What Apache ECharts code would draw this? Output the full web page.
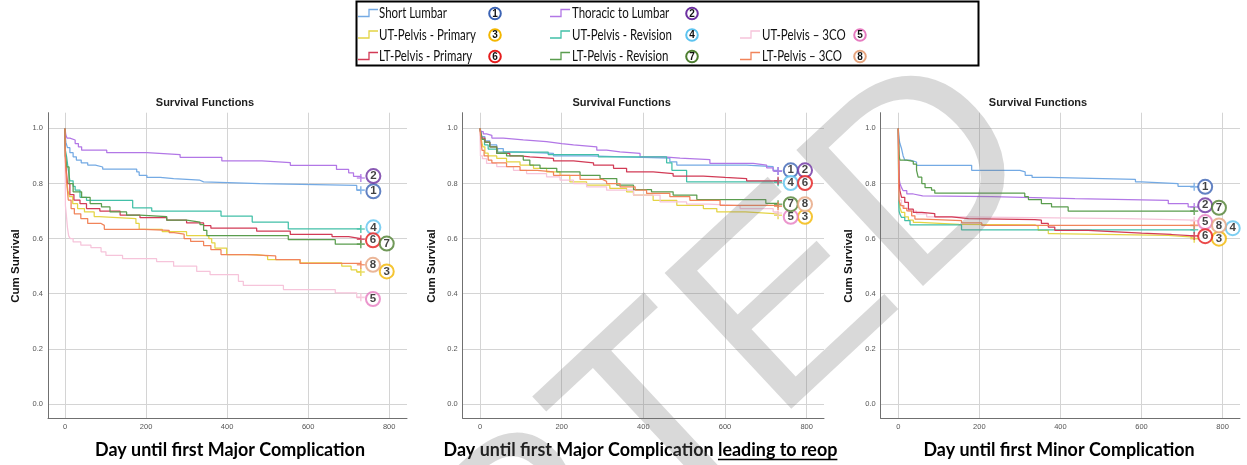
<!DOCTYPE html>
<html><head><meta charset="utf-8">
<script src="https://cdn.jsdelivr.net/npm/echarts@6/dist/echarts.min.js"></script>
<style>html,body{margin:0;padding:0;background:#fff}#c{width:1247px;height:465px}</style>
</head><body><div id="c"></div>
<script>
// ---------- DATA ----------
const groupNames = ['Short Lumbar','Thoracic to Lumbar','UT-Pelvis - Primary','UT-Pelvis - Revision','UT-Pelvis \u2013 3CO','LT-Pelvis - Primary','LT-Pelvis - Revision','LT-Pelvis \u2013 3CO'];
const groupIds = ['1','2','3','4','5','6','7','8'];
const panelTitles = ['Survival Functions','Survival Functions','Survival Functions'];
const yAxisTitle = 'Cum Survival';
const xTitlePlain = ['Day until first Major Complication','Day until first Major Complication ','Day until first Minor Complication'];
const xTitleUnderlined = ['','leading to reop',''];
const xTicks = [0,200,400,600,800];
const yTicks = [0,0.2,0.4,0.6,0.8,1.0];
const watermarkText = 'ACCEPTED';

// Panel 1: Day until first Major Complication  ([day, cumulative survival])
const maj1 = [[0,1],[1,0.965],[2,0.95],[6,0.93],[12,0.912],[20,0.897],[28,0.885],[40,0.875],[56,0.867],[75,0.86],[93,0.852],[177,0.842],[183,0.83],[202,0.822],[235,0.818],[268,0.812],[333,0.806],[342,0.8],[481,0.793],[720,0.776],[730,0.776]];
const maj2 = [[0,1],[2,0.976],[5,0.965],[12,0.958],[25,0.945],[33,0.933],[41,0.921],[103,0.912],[202,0.905],[284,0.895],[387,0.882],[486,0.876],[556,0.866],[670,0.851],[700,0.839],[712,0.826],[730,0.82]];
const maj3 = [[0,1],[1,0.9],[3,0.82],[7,0.776],[11,0.752],[19,0.727],[31,0.709],[48,0.697],[72,0.68],[84,0.673],[175,0.655],[183,0.634],[240,0.625],[300,0.611],[355,0.6],[362,0.585],[370,0.566],[399,0.542],[473,0.537],[500,0.524],[580,0.512],[683,0.5],[706,0.487],[720,0.479],[730,0.479]];
const maj4 = [[0,1],[1,0.92],[4,0.897],[8,0.85],[12,0.81],[20,0.79],[25,0.776],[37,0.75],[53,0.739],[167,0.712],[214,0.7],[385,0.682],[462,0.66],[551,0.635],[730,0.635]];
const maj5 = [[0,1],[1,0.72],[3,0.69],[6,0.64],[9,0.61],[13,0.6],[20,0.588],[39,0.576],[64,0.567],[89,0.552],[101,0.539],[142,0.527],[226,0.517],[268,0.5],[325,0.481],[358,0.469],[428,0.445],[440,0.43],[539,0.415],[667,0.403],[720,0.387],[730,0.387]];
const maj6 = [[0,1],[1,0.9],[3,0.85],[6,0.8],[12,0.76],[22,0.74],[37,0.727],[53,0.709],[86,0.7],[136,0.685],[185,0.676],[251,0.667],[300,0.657],[342,0.647],[360,0.638],[473,0.627],[556,0.615],[659,0.607],[700,0.6],[730,0.598]];
const maj7 = [[0,1],[1,0.9],[4,0.86],[10,0.8],[20,0.77],[41,0.75],[62,0.727],[90,0.715],[111,0.697],[152,0.685],[185,0.68],[251,0.667],[300,0.66],[333,0.651],[342,0.63],[350,0.611],[551,0.596],[667,0.58],[730,0.58]];
const maj8 = [[0,1],[1,0.88],[2,0.86],[5,0.79],[8,0.74],[15,0.709],[23,0.69],[39,0.673],[56,0.655],[89,0.648],[97,0.634],[195,0.63],[257,0.622],[269,0.616],[294,0.6],[310,0.59],[342,0.575],[360,0.56],[385,0.542],[450,0.537],[520,0.524],[580,0.51],[730,0.505]];

// Panel 2: Day until first Major Complication leading to reop
const reop1 = [[0,1],[2,0.985],[5,0.97],[12,0.955],[24,0.94],[41,0.927],[57,0.915],[90,0.909],[180,0.9],[269,0.897],[350,0.892],[465,0.879],[482,0.867],[653,0.861],[718,0.848],[730,0.845]];
const reop2 = [[0,1],[3,0.988],[8,0.98],[16,0.975],[29,0.965],[57,0.958],[106,0.952],[163,0.945],[200,0.94],[229,0.933],[286,0.921],[310,0.915],[343,0.909],[392,0.897],[450,0.892],[490,0.887],[563,0.873],[669,0.867],[702,0.857],[718,0.845],[730,0.845]];
const reop3 = [[0,1],[3,0.96],[7,0.933],[12,0.91],[20,0.9],[41,0.891],[65,0.879],[98,0.867],[131,0.855],[163,0.842],[196,0.83],[220,0.806],[261,0.794],[318,0.782],[359,0.77],[376,0.758],[424,0.739],[482,0.721],[547,0.709],[580,0.697],[650,0.69],[730,0.685]];
const reop4 = [[0,1],[2,0.985],[5,0.96],[11,0.94],[20,0.925],[43,0.914],[167,0.905],[290,0.897],[457,0.875],[470,0.848],[506,0.806],[730,0.805]];
const reop5 = [[0,1],[1,0.9],[6,0.89],[16,0.873],[41,0.861],[82,0.848],[114,0.836],[163,0.824],[196,0.812],[229,0.8],[261,0.788],[310,0.776],[376,0.758],[441,0.733],[506,0.725],[560,0.72],[637,0.709],[718,0.697],[730,0.693]];
const reop6 = [[0,1],[2,0.98],[5,0.965],[12,0.95],[24,0.933],[41,0.909],[73,0.9],[98,0.897],[122,0.891],[180,0.882],[229,0.875],[278,0.867],[327,0.855],[359,0.842],[424,0.836],[473,0.827],[547,0.822],[600,0.818],[653,0.81],[730,0.81]];
const reop7 = [[0,1],[2,0.98],[5,0.96],[12,0.95],[24,0.933],[41,0.909],[65,0.9],[106,0.885],[122,0.867],[147,0.855],[188,0.842],[245,0.83],[294,0.818],[335,0.794],[376,0.778],[420,0.77],[473,0.758],[531,0.742],[700,0.728],[730,0.725]];
const reop8 = [[0,1],[2,0.96],[5,0.92],[10,0.9],[20,0.885],[29,0.875],[65,0.861],[98,0.848],[140,0.842],[180,0.83],[245,0.815],[300,0.808],[310,0.8],[343,0.788],[380,0.776],[408,0.764],[465,0.752],[514,0.739],[588,0.721],[730,0.718]];

// Panel 3: Day until first Minor Complication
const min1 = [[0,1],[2,0.96],[4,0.945],[8,0.927],[12,0.9],[16,0.885],[29,0.878],[45,0.866],[181,0.848],[300,0.842],[313,0.83],[330,0.822],[370,0.815],[585,0.806],[600,0.8],[690,0.79],[730,0.788]];
const min2 = [[0,1],[1,0.9],[2,0.82],[4,0.8],[8,0.785],[12,0.774],[21,0.762],[37,0.755],[60,0.752],[230,0.745],[436,0.739],[666,0.727],[715,0.715],[730,0.715]];
const min3 = [[0,1],[1,0.8],[2,0.74],[4,0.713],[8,0.695],[16,0.679],[25,0.667],[37,0.659],[53,0.652],[150,0.65],[337,0.645],[345,0.63],[370,0.618],[378,0.612],[666,0.606],[720,0.6],[730,0.6]];
const min4 = [[0,1],[1,0.74],[2,0.7],[4,0.689],[8,0.677],[16,0.665],[29,0.65],[156,0.632],[730,0.632]];
const min5 = [[0,1],[1,0.8],[3,0.74],[8,0.72],[15,0.71],[25,0.7],[45,0.69],[70,0.679],[156,0.673],[560,0.667],[730,0.665]];
const min6 = [[0,1],[1,0.9],[2,0.8],[4,0.774],[8,0.75],[16,0.732],[25,0.707],[37,0.695],[58,0.691],[90,0.679],[132,0.673],[173,0.669],[337,0.667],[353,0.655],[370,0.642],[386,0.63],[468,0.624],[551,0.62],[600,0.615],[674,0.61],[730,0.61]];
const min7 = [[0,1],[2,0.9],[4,0.885],[20,0.88],[37,0.87],[45,0.848],[49,0.823],[58,0.8],[66,0.785],[82,0.776],[90,0.765],[312,0.752],[321,0.742],[353,0.727],[378,0.715],[419,0.7],[730,0.7]];
const min8 = [[0,1],[1,0.8],[2,0.738],[6,0.72],[12,0.71],[21,0.701],[33,0.683],[41,0.671],[62,0.665],[156,0.657],[206,0.648],[730,0.648]];

// ---------- LAYOUT / STYLE ----------
const panelCurves = [[maj1,maj2,maj3,maj4,maj5,maj6,maj7,maj8],[reop1,reop2,reop3,reop4,reop5,reop6,reop7,reop8],[min1,min2,min3,min4,min5,min6,min7,min8]];
// circled-number annotation anchors (data coords) per panel, group order 1..8
const badgePos = [
  [[761,0.772],[761,0.827],[794,0.481],[761,0.641],[760,0.381],[760,0.594],[794,0.582],[760,0.505]],
  [[761,0.848],[796,0.848],[796,0.679],[761,0.802],[761,0.679],[796,0.802],[761,0.725],[796,0.725]],
  [[757,0.788],[757,0.721],[791,0.600],[825,0.638],[757,0.660],[757,0.609],[791,0.712],[791,0.648]]
];
const lineColors = ['#74aae4','#b277e6','#e4d444','#42c0a8','#f6c4da','#d23b56','#5a9d4e','#f1845a'];
const badgeColors = ['#3b63b4','#6c2fa0','#f3b600','#5cc3ef','#e67cc0','#e51c1c','#4e7f30','#e6a47e'];
const grids = [
  {left:48, top:112.7, width:359, height:305.6},
  {left:462.7, top:112.7, width:361.3, height:305.6},
  {left:880.7, top:112.7, width:359.3, height:305.6}
];
const xRange = [[-42,844],[-42.4,842.5],[-43.4,842.9]];
const yRange = [-0.052,1.057];
const titleCenters = [205,621.7,1038];
const yTitleX = [16,432,849];
const xTitleCenters = [230,640.5,1059];

const mctx = document.createElement('canvas').getContext('2d');
function tw(t, font){ mctx.font = font; return mctx.measureText(t).width; }

const plus = 'path://M4,0H6V4H10V6H6V10H4V6H0V4H4Z';
const series = [], xAxes = [], yAxes = [], gridOpts = [];
panelCurves.forEach((curves, pi) => {
  gridOpts.push(Object.assign({outerBoundsMode:'none', containLabel:false}, grids[pi]));
  xAxes.push({type:'value', gridIndex:pi, min:xRange[pi][0], max:xRange[pi][1],
    axisLine:{show:true, onZero:false, lineStyle:{color:'#707070', width:1}},
    axisTick:{show:false, customValues:xTicks},
    axisLabel:{customValues:xTicks, fontSize:7.5, color:'#555', margin:5, fontFamily:'Liberation Sans'},
    splitLine:{show:true, lineStyle:{color:'#d4d4d4', width:1}}});
  yAxes.push({type:'value', gridIndex:pi, min:yRange[0], max:yRange[1],
    axisLine:{show:true, onZero:false, lineStyle:{color:'#707070', width:1}},
    axisTick:{show:false, customValues:yTicks},
    axisLabel:{customValues:yTicks, fontSize:7.5, color:'#555', margin:5, fontFamily:'Liberation Sans', formatter:v=>v.toFixed(1)},
    splitLine:{show:true, lineStyle:{color:'#d4d4d4', width:1}}});
  curves.forEach((c, gi) => {
    series.push({type:'line', name:groupNames[gi], xAxisIndex:pi, yAxisIndex:pi, step:'end', data:c,
      symbol:'none', showSymbol:false, silent:true, animation:false,
      lineStyle:{color:lineColors[gi], width:1.25}, itemStyle:{color:lineColors[gi]}, z:2});
  });
  series.push({type:'scatter', xAxisIndex:pi, yAxisIndex:pi, symbol:plus, symbolSize:8, silent:true, animation:false, z:3,
    data:curves.map((c,gi)=>({value:c[c.length-1], itemStyle:{color:lineColors[gi]}}))});
  series.push({type:'scatter', xAxisIndex:pi, yAxisIndex:pi, symbol:'circle', symbolSize:14, silent:true, animation:false, z:4,
    itemStyle:{color:'#fff', borderWidth:2},
    label:{show:true, position:'inside', color:'#111', fontWeight:'bold', fontSize:11.5, fontFamily:'Liberation Sans'},
    data:badgePos[pi].map((b,gi)=>({value:b, label:{formatter:groupIds[gi]}, itemStyle:{borderColor:badgeColors[gi]}}))});
});

const graphics = [];
titleCenters.forEach((cx,i)=>{
  graphics.push({type:'text', x:cx, y:103, silent:true, style:{text:panelTitles[i], font:'bold 11px "Liberation Sans"', fill:'#222', align:'center', verticalAlign:'middle'}});
  graphics.push({type:'text', x:yTitleX[i], y:266, rotation:Math.PI/2, silent:true, style:{text:yAxisTitle, font:'bold 11.5px "Liberation Sans"', fill:'#111', align:'center', verticalAlign:'middle'}});
});
const xtFont = 'bold 18px Lato';
const xtScale = 270 / tw(xTitlePlain[0], xtFont);
xTitleCenters.forEach((cx,i)=>{
  const full = xTitlePlain[i] + xTitleUnderlined[i];
  const W = tw(full, xtFont) * xtScale;
  graphics.push({type:'text', x:cx, y:450, scaleX:xtScale, silent:true, style:{text:full, font:xtFont, fill:'#000', align:'center', verticalAlign:'middle'}});
  if (xTitleUnderlined[i]) {
    const wp = tw(xTitlePlain[i], xtFont) * xtScale;
    const x0 = cx - W/2 + wp, x1 = cx + W/2;
    graphics.push({type:'line', silent:true, shape:{x1:x0, y1:459.5, x2:x1, y2:459.5}, style:{stroke:'#000', lineWidth:1.4}});
  }
});
// legend box
graphics.push({type:'rect', silent:true, shape:{x:356.5, y:1.5, width:622, height:64}, style:{fill:'#fff', stroke:'#000', lineWidth:2}});
const legCells = [[0,0],[0,1],[1,0],[1,1],[1,2],[2,0],[2,1],[2,2]];
const legIconX = [358,550,740], legTextX = [379,572,762], legBadgeX = [495,692,860], legRowY = [13.5,35,56.5];
const legFont = '15px Lato';
const legScale = 68 / tw('Short Lumbar', legFont);
legCells.forEach(([r,c],gi)=>{
  const x0 = legIconX[c], y = legRowY[r];
  graphics.push({type:'polyline', silent:true, shape:{points:[[x0,y+3],[x0+11,y+3],[x0+11,y-4],[x0+20,y-4]]}, style:{stroke:lineColors[gi], lineWidth:1.3, fill:null}});
  graphics.push({type:'text', x:legTextX[c], y:y, scaleX:legScale, silent:true, style:{text:groupNames[gi], font:legFont, fill:'#111', align:'left', verticalAlign:'middle'}});
  graphics.push({type:'circle', silent:true, shape:{cx:legBadgeX[c], cy:y, r:5.8}, style:{fill:'#fff', stroke:badgeColors[gi], lineWidth:2}});
  graphics.push({type:'text', x:legBadgeX[c], y:y+0.5, silent:true, style:{text:groupIds[gi], font:'bold 10px "Liberation Sans"', fill:'#111', align:'center', verticalAlign:'middle'}});
});
// watermark
graphics.push({type:'text', x:461, y:615, rotation:43*Math.PI/180, silent:true, z:100,
  style:{text:watermarkText, font:'270px "Liberation Sans"', fill:'rgba(120,120,120,0.28)', align:'center', verticalAlign:'middle'}});

const chart = echarts.init(document.getElementById('c'), null, {renderer:'canvas'});
chart.setOption({
  animation:false,
  backgroundColor:'#fff',
  grid:gridOpts, xAxis:xAxes, yAxis:yAxes, series:series,
  graphic:{elements:graphics}
});
</script></body></html>
